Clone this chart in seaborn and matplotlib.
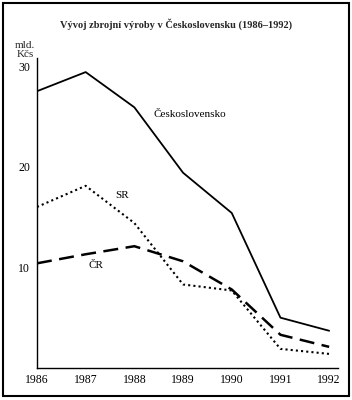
import matplotlib
matplotlib.use("Agg")
import matplotlib.pyplot as plt
import seaborn as sns
import pandas as pd
from matplotlib.patches import Rectangle

years = [1986, 1987, 1988, 1989, 1990, 1991, 1992]
cs = [27.5, 29.4, 25.9, 19.4, 15.4, 5.0, 3.7]
sr = [16.0, 18.1, 14.4, 8.3, 7.7, 1.9, 1.4]
cr = [10.4, 11.3, 12.1, 10.6, 7.8, 3.3, 2.1]
yticks = [10, 20, 30]

sns.set_theme(style="white")
plt.rcParams['font.family'] = ['Liberation Serif', 'DejaVu Serif']

df = pd.DataFrame({"year": years * 3,
                   "value": cs + sr + cr,
                   "series": ["CS"] * 7 + ["SR"] * 7 + ["CR"] * 7})

fig = plt.figure(figsize=(3.52, 4.0), dpi=100)
ax = fig.add_axes([0.105, 0.08, 0.855, 0.775])

styles = {"CS": dict(ls="-", lw=1.3), "SR": dict(ls=(0, (1, 1.5)), lw=1.5),
          "CR": dict(ls=(0, (6, 3)), lw=1.8)}
for name, st in styles.items():
    sub = df[df.series == name]
    sns.lineplot(data=sub, x="year", y="value", ax=ax, color="black",
                 linestyle=st["ls"], linewidth=st["lw"], legend=False)

ax.set_xlim(1986, 1992.18)
ax.set_ylim(0, 30.8)
ax.set_xticks(years)
ax.set_xticklabels([str(y) for y in years])
ax.set_yticks(yticks)
ax.set_xlabel("")
ax.set_ylabel("")
for s in ["top", "right"]:
    ax.spines[s].set_visible(False)
for s in ["left", "bottom"]:
    ax.spines[s].set_color("black")
    ax.spines[s].set_linewidth(1.0)
ax.tick_params(axis="both", direction="inout", length=6, width=0.9,
               colors="black", labelsize=8.5, pad=2)
ax.tick_params(axis="x", direction="in", length=4, pad=4)
ax.patch.set_alpha(0)

ax.text(1988.4, 24.9, "Československo", fontsize=8, color="black")
ax.text(1987.6, 16.9, "SR", fontsize=8, color="black")
ax.text(1987.05, 9.9, "ČR", fontsize=8, color="black")

fig.text(0.072, 0.852, "mld.\nKčs", fontsize=8, ha="center", va="bottom",
         linespacing=1.0)
fig.text(0.5, 0.94, "Vývoj zbrojní výroby v Československu (1986–1992)",
         fontsize=7.5, fontweight="bold", ha="center", va="center")

fig.patches.append(Rectangle((0.009, 0.01), 0.982, 0.982, transform=fig.transFigure,
                             fill=False, edgecolor="black", linewidth=1.5))

fig.savefig("out.png", dpi=100)
